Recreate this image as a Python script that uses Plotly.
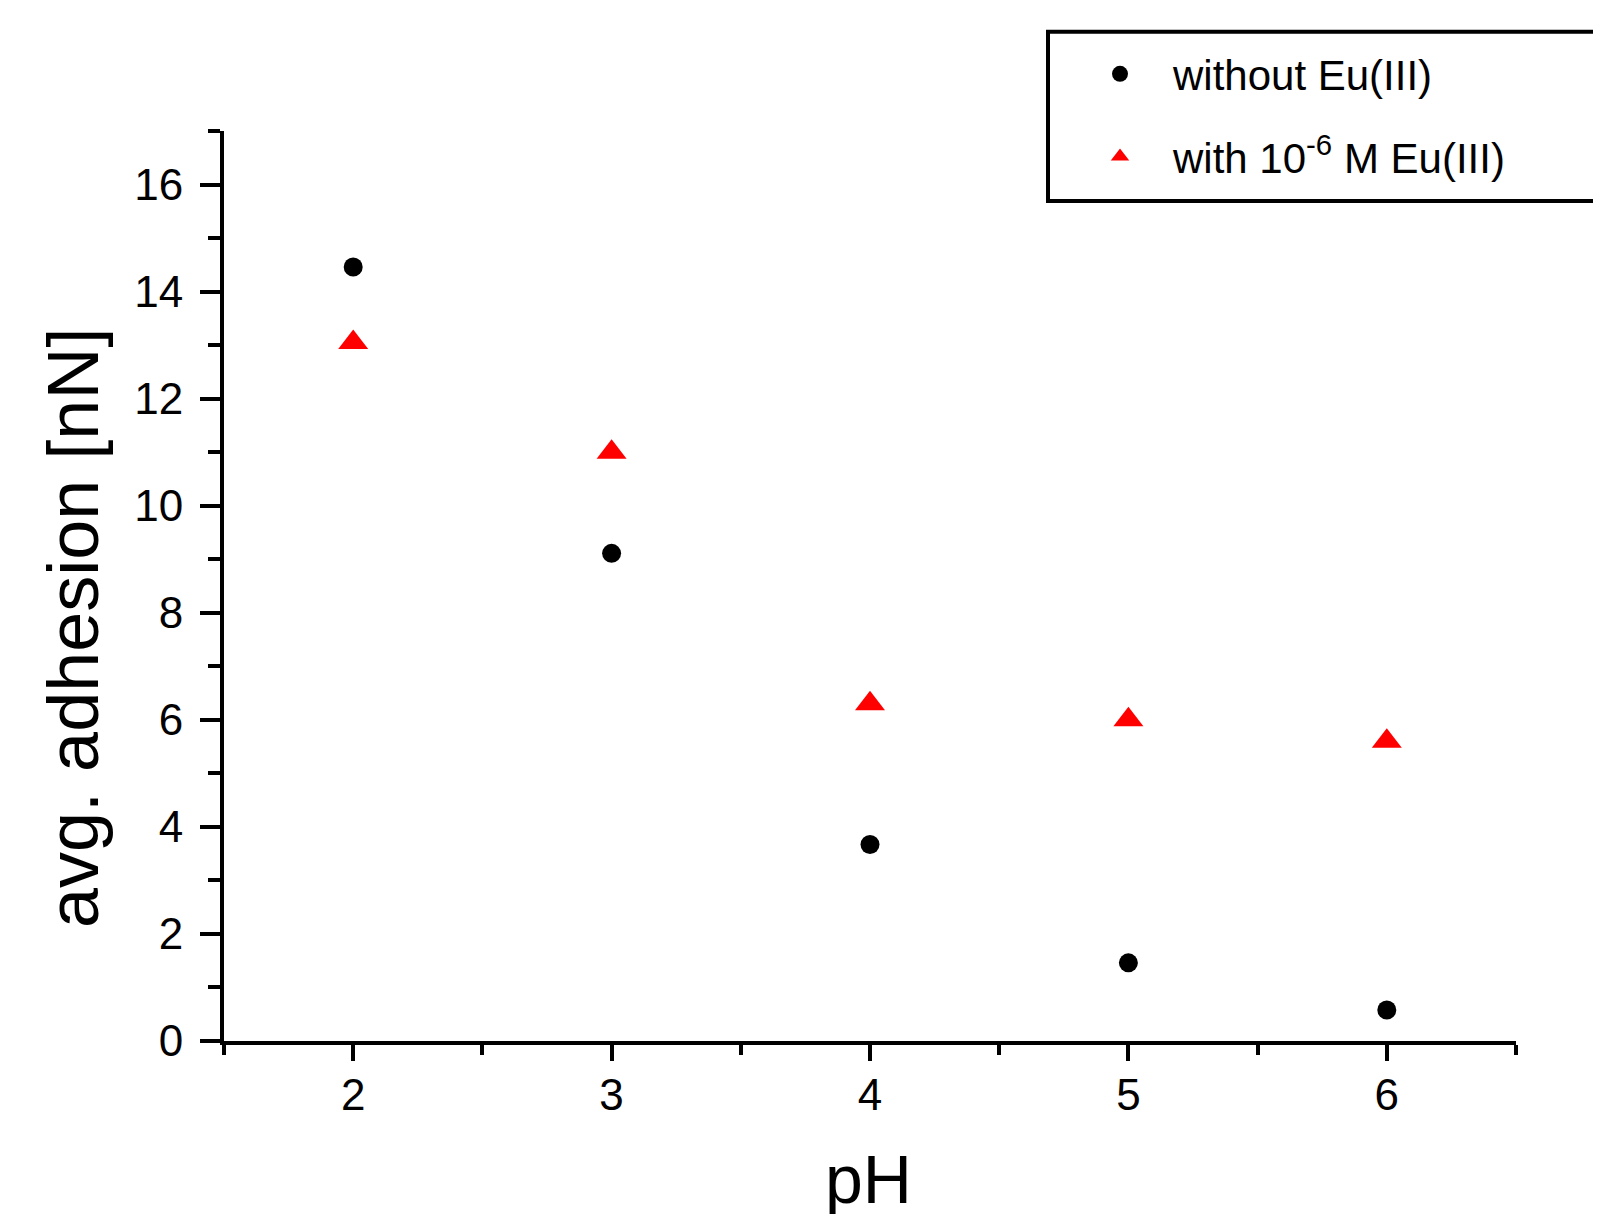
import plotly.graph_objects as go

ph = [2, 3, 4, 5, 6]
without_eu = [14.46, 9.11, 3.67, 1.46, 0.58]
with_eu = [13.05, 11.0, 6.3, 6.0, 5.6]

W, H = 1601, 1214
OFF = 8  # default body margin of the html page
L, T = 224 - OFF, 131 - OFF
pw, ph_ = 1292, 910
R, B = W - L - pw, H - T - ph_


def px_x(x):
    return (x - OFF - L) / pw


def px_y(y):
    return 1 - (y - OFF - T) / ph_


FONT = "Arial, Liberation Sans, sans-serif"

fig = go.Figure()
fig.add_trace(go.Scatter(x=ph, y=without_eu, mode="markers", name="without Eu(III)",
                         legendgroup="a",
                         marker=dict(symbol="circle", size=19, color="black")))
fig.add_trace(go.Scatter(x=ph, y=with_eu, mode="markers", name="with 10<sup>-6</sup> M Eu(III)",
                         legendgroup="b",
                         marker=dict(symbol="triangle-up", size=26, color="red")))

axis_common = dict(showline=True, linecolor="black", linewidth=4, ticks="outside",
                   tickcolor="black", tickwidth=4, showgrid=False, zeroline=False,
                   tickfont=dict(family=FONT, size=44, color="black"), mirror=False)

fig.update_xaxes(range=[1.5, 6.5], tick0=2, dtick=1, ticklen=16, ticklabelstandoff=-4,
                 minor=dict(ticks="outside", dtick=0.5, tick0=1.5, ticklen=10, tickwidth=4, tickcolor="black"),
                 **axis_common)
fig.update_yaxes(range=[0, 17], tick0=0, dtick=2, ticklen=20, ticklabelstandoff=8,
                 minor=dict(ticks="outside", dtick=1, tick0=0, ticklen=12, tickwidth=4, tickcolor="black"),
                 **axis_common)

fig.add_annotation(text="avg. adhesion [nN]", xref="paper", yref="paper",
                   x=px_x(73), y=px_y(628), xanchor="center", yanchor="middle",
                   textangle=-90, showarrow=False,
                   font=dict(family=FONT, size=72, color="black"))
fig.add_annotation(text="pH", xref="paper", yref="paper",
                   x=px_x(868), y=px_y(1179), xanchor="center", yanchor="middle",
                   showarrow=False,
                   font=dict(family=FONT, size=68, color="black"))

fig.add_shape(type="rect", xref="paper", yref="paper",
              x0=px_x(1048), x1=px_x(1700), y0=px_y(201), y1=px_y(31.7),
              line=dict(color="black", width=4), fillcolor="rgba(0,0,0,0)")

fig.update_layout(
    width=W, height=H,
    margin=dict(l=L, r=R, t=T, b=B),
    paper_bgcolor="white", plot_bgcolor="white",
    showlegend=True,
    legend=dict(x=px_x(1067), y=px_y(40), xanchor="left", yanchor="top",
                bgcolor="rgba(0,0,0,0)", borderwidth=0,
                font=dict(family=FONT, size=42, color="black"),
                itemwidth=96, tracegroupgap=25, traceorder="grouped"),
)

fig.write_html("out.html")
